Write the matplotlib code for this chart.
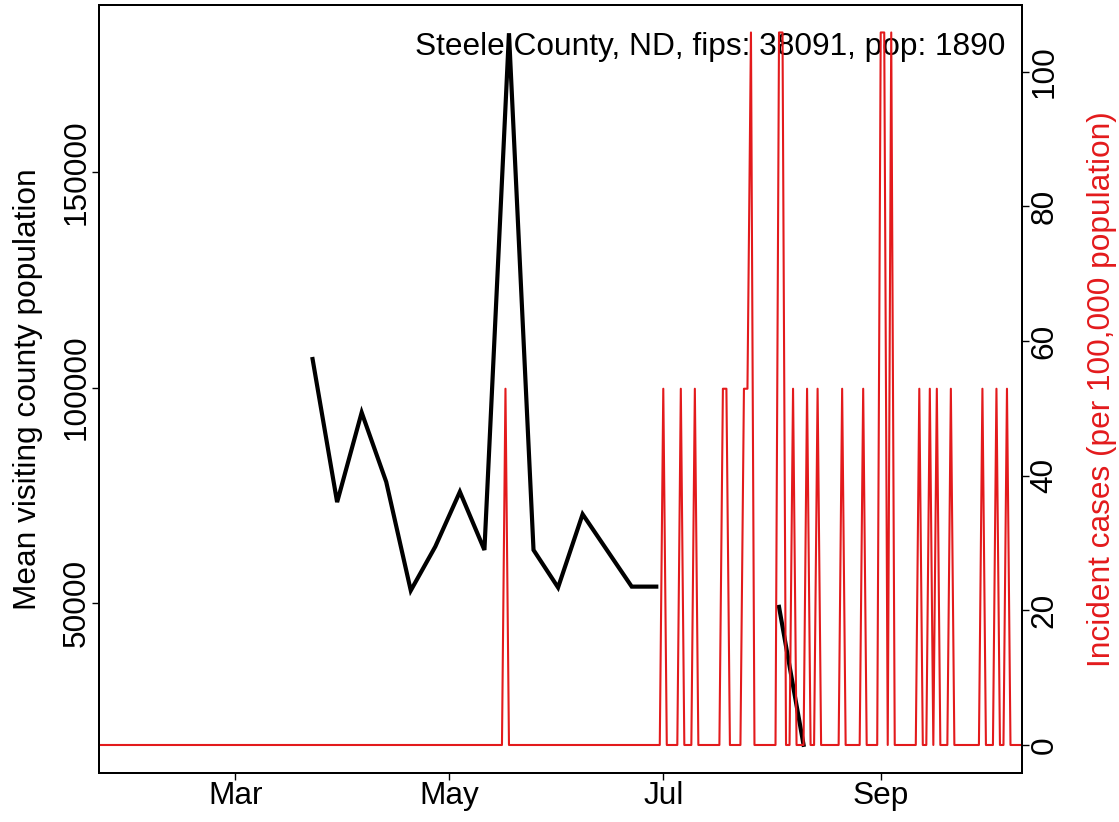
"""
Steele County, ND: mean visiting county population (weekly) and
incident cases per 100,000 (daily), on twin y axes.
"""
from datetime import datetime, timedelta
import numpy as np
import matplotlib
matplotlib.use("Agg")
import matplotlib.pyplot as plt
import matplotlib.dates as mdates

plt.rcParams['font.family'] = ['Liberation Sans', 'DejaVu Sans']

POP = 1890
TITLE = "Steele County, ND, fips: 38091, pop: 1890"

# weekly mean visiting county population (NaN = no data that week)
week_start = datetime(2020, 3, 23)
visit_pop = [106600, 73400, 94200, 78100, 52900, 63100, 75800, 62300,
             182200, 62300, 53600, 70600, 62200, 53800, 53800,
             np.nan, np.nan, np.nan, np.nan, 49100, 17100]

# days with new cases (everything else is zero)
case_dates = ["2020-05-17", "2020-07-01", "2020-07-06", "2020-07-10",
              "2020-07-18", "2020-07-19", "2020-07-24", "2020-07-25",
              "2020-07-26", "2020-08-03", "2020-08-04", "2020-08-07",
              "2020-08-11", "2020-08-14", "2020-08-21", "2020-08-27",
              "2020-09-01", "2020-09-02", "2020-09-04", "2020-09-12",
              "2020-09-15", "2020-09-17", "2020-09-21", "2020-09-30",
              "2020-10-04", "2020-10-07"]
case_counts = [1, 1, 1, 1, 1, 1, 1, 1, 2, 2, 2, 1, 1, 1, 1, 1,
               2, 2, 2, 1, 1, 1, 1, 1, 1, 1]

x_ticks = ["2020-03-01", "2020-05-01", "2020-07-01", "2020-09-01"]
x_tick_labels = ["Mar", "May", "Jul", "Sep"]

RED = '#E31A1C'
FS = 22.8

# build series
week_dates = [week_start + timedelta(days=7 * i) for i in range(len(visit_pop))]
day0 = datetime(2020, 1, 15)
days = [day0 + timedelta(days=i) for i in range(280)]
incid = np.zeros(len(days))
for d, c in zip(case_dates, case_counts):
    incid[(datetime.strptime(d, "%Y-%m-%d") - day0).days] = c / POP * 1e5

fig = plt.figure(figsize=(11.19, 8.22), dpi=100)
ax = fig.add_axes([99 / 1119, 1 - 773 / 822, 922.7 / 1119, 768 / 822])
ax2 = ax.twinx()

ax.plot(week_dates, visit_pop, color='black', lw=3.0, solid_joinstyle='miter')
ax2.plot(days, incid, color=RED, lw=1.5)

mar1 = datetime(2020, 3, 1)
ax.set_xlim(mar1 - timedelta(days=38.9), mar1 + timedelta(days=224.2))
ax.set_ylim(10557, 188747)
ax2.set_ylim(-4.16, 109.9)

ax.set_xticks([datetime.strptime(t, "%Y-%m-%d") for t in x_ticks])
ax.set_xticklabels(x_tick_labels)
ax.set_yticks([50000, 100000, 150000])
ax.set_yticklabels(["50000", "100000", "150000"])
ax2.set_yticks([0, 20, 40, 60, 80, 100])

for a in (ax, ax2):
    for s in a.spines.values():
        s.set_linewidth(1.4)
    a.tick_params(length=5, width=1.0, labelsize=FS, color='black')
ax.tick_params(axis='x', pad=1)
ax.tick_params(axis='y', pad=0.5)
ax2.tick_params(axis='y', pad=0.5)
for lab in ax.get_yticklabels():
    lab.set_rotation(90)
    lab.set_va('center')
for lab in ax2.get_yticklabels():
    lab.set_rotation(90)
    lab.set_va('center')

ax.set_ylabel("Mean visiting county population", fontsize=FS)
ax.yaxis.set_label_coords(-0.077, 0.5)
ax.yaxis.label.set_va('center')
ax2.set_ylabel("Incident cases (per 100,000 population)", fontsize=FS,
               color=RED, rotation=90)
ax2.yaxis.set_label_coords(1.0865, 0.5)
ax2.yaxis.label.set_va('center')

ax.text(0.982, 0.935, TITLE, transform=ax.transAxes, ha='right',
        va='baseline', fontsize=FS, zorder=10)

fig.savefig("out.png", dpi=100)
